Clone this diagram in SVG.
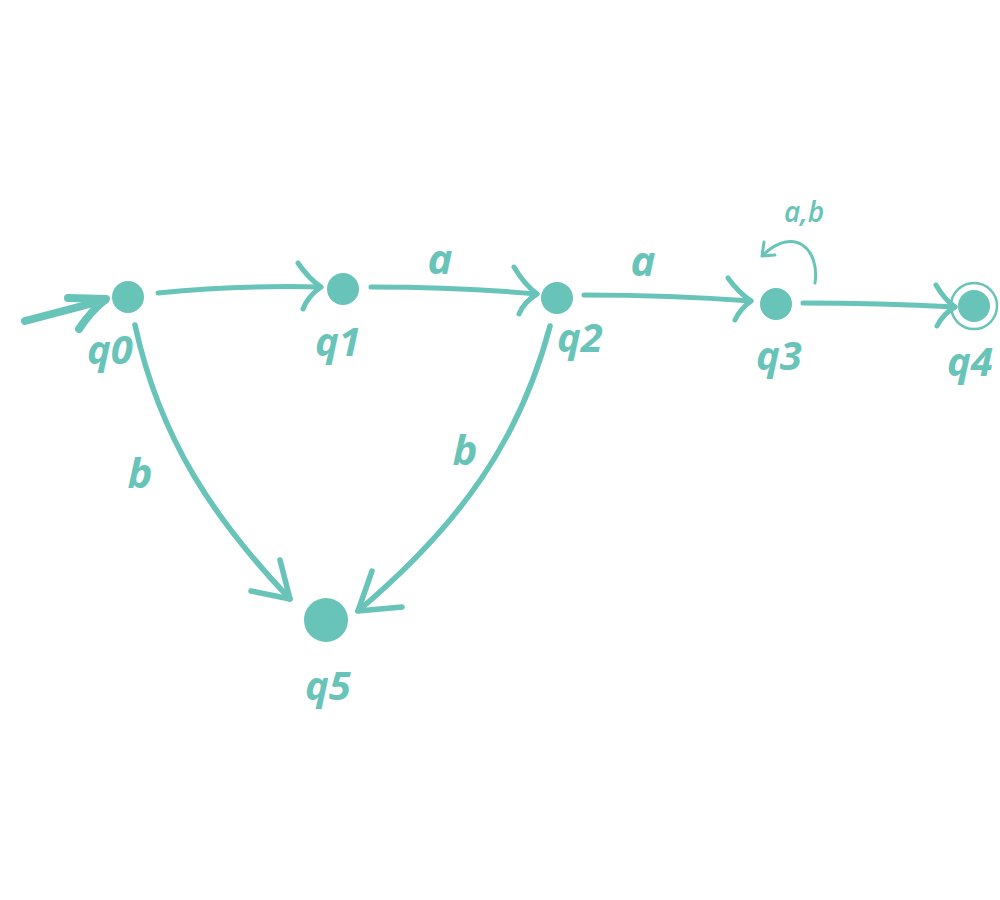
<svg xmlns="http://www.w3.org/2000/svg" width="1000" height="900" viewBox="0 0 1000 900">
<style>
.node{fill:#68C3B8;}
.ring{fill:none;stroke:#68C3B8;stroke-width:2.5;}
.edge{fill:none;stroke:#68C3B8;stroke-linecap:round;stroke-linejoin:round;}
.lbl{fill:#68C3B8;font-family:"Open Sans","DejaVu Sans",sans-serif;font-style:italic;font-weight:bold;font-size:40px;}
.elbl{fill:#68C3B8;font-family:"Open Sans","DejaVu Sans",sans-serif;font-style:italic;font-weight:bold;font-size:42px;}
.small{fill:#68C3B8;font-family:"Open Sans","DejaVu Sans",sans-serif;font-style:italic;font-weight:600;font-size:28px;}
</style>
<rect width="1000" height="900" fill="#ffffff"/>
<g id="connectors">
  <g id="initial">
    <path class="edge" d="M25,321 L105,300" stroke-width="8"/>
    <path class="edge" d="M68,298 L106,299 Q90,312 79,329" stroke-width="8"/>
  </g>
  <g id="e-q0-q1">
    <path class="edge" d="M158,293 Q240,285 321,287" stroke-width="5"/>
    <path class="edge" d="M298,263 Q308,278 321,287 Q308,296 303,309" stroke-width="5"/>
  </g>
  <g id="e-q1-q2">
    <path class="edge" d="M371,287 Q460,287 537,294" stroke-width="5"/>
    <path class="edge" d="M514,267 Q524,284 537,294 Q524,302 519,314" stroke-width="5"/>
    <text class="elbl" x="440" y="274" text-anchor="middle">a</text>
  </g>
  <g id="e-q2-q3">
    <path class="edge" d="M584,295 Q670,295 751,301" stroke-width="5"/>
    <path class="edge" d="M728,278 Q738,292 751,301 Q740,309 735,320" stroke-width="5"/>
    <text class="elbl" x="643" y="276" text-anchor="middle">a</text>
  </g>
  <g id="e-q3-q3">
    <path class="edge" d="M815,283 C820,250 795,225 763,255" stroke-width="3"/>
    <path class="edge" d="M764,242 L762,256 L775,255" stroke-width="3"/>
    <text class="small" x="804" y="222" text-anchor="middle">a,b</text>
  </g>
  <g id="e-q3-q4">
    <path class="edge" d="M803,303 Q880,303 955,307" stroke-width="5"/>
    <path class="edge" d="M936,285 Q944,299 955,307 Q943,314 937,326" stroke-width="5"/>
  </g>
  <g id="e-q0-q5">
    <path class="edge" d="M135,325 C160,440 215,520 290,599" stroke-width="5.5"/>
    <path class="edge" d="M280,560 L290,599 L251,591" stroke-width="5.5"/>
    <text class="elbl" x="140" y="488" text-anchor="middle">b</text>
  </g>
  <g id="e-q2-q5">
    <path class="edge" d="M550,326 C520,440 460,525 358,611" stroke-width="5.5"/>
    <path class="edge" d="M372,571 L358,611 L402,607" stroke-width="5.5"/>
    <text class="elbl" x="465" y="465" text-anchor="middle">b</text>
  </g>
</g>
<g id="q0"><circle class="node" cx="128" cy="297" r="16"/><text class="lbl" x="110" y="364" text-anchor="middle">q0</text></g>
<g id="q1"><circle class="node" cx="343" cy="289" r="16"/><text class="lbl" x="338" y="356" text-anchor="middle">q1</text></g>
<g id="q2"><circle class="node" cx="557" cy="298" r="16"/><text class="lbl" x="580" y="352" text-anchor="middle">q2</text></g>
<g id="q3"><circle class="node" cx="776" cy="304" r="16"/><text class="lbl" x="779" y="370" text-anchor="middle">q3</text></g>
<g id="q4"><circle class="ring" cx="974" cy="306" r="23"/><circle class="node" cx="974" cy="306" r="16"/><text class="lbl" x="970" y="376" text-anchor="middle">q4</text></g>
<g id="q5"><circle class="node" cx="326" cy="620" r="22"/><text class="lbl" x="328" y="700" text-anchor="middle">q5</text></g>
</svg>
